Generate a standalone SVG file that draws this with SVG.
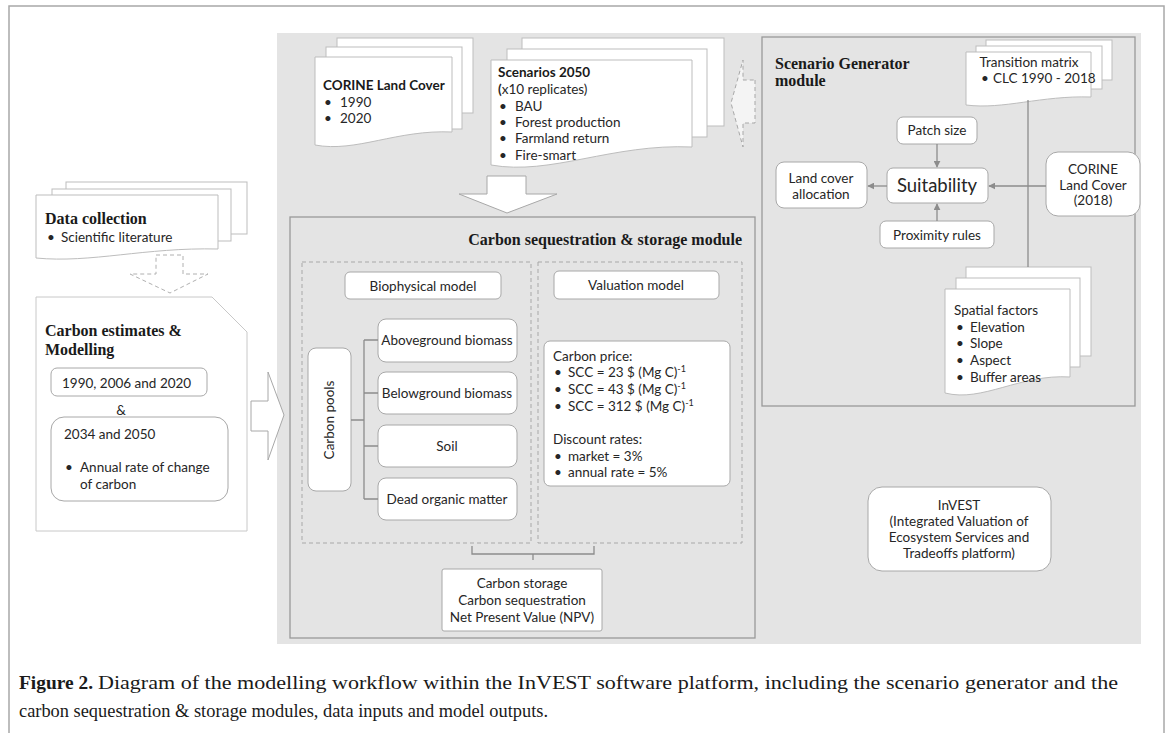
<svg xmlns="http://www.w3.org/2000/svg" width="1168" height="733" viewBox="0 0 1168 733">
<style>
.t{font-family:Lato,"Open Sans",sans-serif;font-size:13.5px;fill:#262626}
.tb{font-family:Lato,"Open Sans",sans-serif;font-size:13.5px;font-weight:bold;fill:#1a1a1a}
.c{text-anchor:middle}
.big{font-size:18.5px}
.st{font-family:"Liberation Serif",serif;font-size:16px;font-weight:bold;fill:#1a1a1a}
.box{fill:#fff;stroke:#a8a8a8;stroke-width:1}
.sheet{fill:#fff;stroke:#bdbdbd;stroke-width:1}
.dash{fill:none;stroke:#a8a8a8;stroke-width:1;stroke-dasharray:4 3}
.line{fill:none;stroke:#8c8c8c;stroke-width:1.3}
.cap{font-family:"Liberation Serif","DejaVu Serif",serif;font-size:19px;fill:#1a1a1a}
</style>
<defs>
<marker id="ah" viewBox="0 0 10 10" refX="9" refY="5" markerWidth="7" markerHeight="7" markerUnits="userSpaceOnUse" orient="auto">
<path d="M0,0 L10,5 L0,10 z" fill="#8c8c8c"/>
</marker>
</defs>
<rect width="1168" height="733" fill="#fff"/>
<rect x="9" y="6" width="1155" height="740" fill="none" stroke="#a8a8a8" stroke-width="1.5"/>
<rect x="277" y="33" width="864" height="611" fill="#e4e4e4"/>

<g id="corine-docs">
<rect class="sheet" x="337" y="38" width="136" height="75"/>
<rect class="sheet" x="326" y="47" width="136" height="82"/>
<path class="sheet" d="M315,57 H452 V132 C397,129.4 356,152.8 315,145 Z"/>
<text class="tb" x="323" y="90">CORINE Land Cover</text>
<text class="t" x="324" y="107">•</text><text class="t" x="340" y="107">1990</text>
<text class="t" x="324" y="123">•</text><text class="t" x="340" y="123">2020</text>
</g>

<g id="scenarios-docs">
<rect class="sheet" x="522" y="38" width="202" height="88"/>
<rect class="sheet" x="507" y="49" width="200" height="88"/>
<path class="sheet" d="M491,60 H692 V147 C612,143.4 551,175.8 491,165 Z"/>
<text class="tb" x="498" y="77">Scenarios 2050</text>
<text class="t" x="498" y="94"><tspan font-weight="bold">(</tspan>x10 replicates)</text>
<text class="t" x="499" y="111">•</text><text class="t" x="515" y="111">BAU</text>
<text class="t" x="499" y="127">•</text><text class="t" x="515" y="127">Forest production</text>
<text class="t" x="499" y="143">•</text><text class="t" x="515" y="143">Farmland return</text>
<text class="t" x="499" y="160">•</text><text class="t" x="515" y="160">Fire-smart</text>
</g>

<g id="carbon-module">
<rect x="290" y="217" width="465" height="421" fill="none" stroke="#999" stroke-width="1.3"/>
<text class="st" x="742" y="245" text-anchor="end">Carbon sequestration &amp; storage module</text>
<rect class="dash" x="302" y="262" width="229" height="281"/>
<rect class="dash" x="538" y="262" width="204" height="281"/>
</g>

<g id="biophysical">
<rect class="box" x="345" y="272" width="156" height="27" rx="5"/>
<text class="t c" x="423" y="291">Biophysical model</text>
</g>
<g id="valuation">
<rect class="box" x="554" y="271" width="165" height="28" rx="5"/>
<text class="t c" x="636" y="290">Valuation model</text>
</g>
<g id="carbon-pools">
<rect class="box" x="308" y="348" width="43" height="143" rx="8"/>
<text class="t c" transform="translate(329,420) rotate(-90)" x="0" y="5">Carbon pools</text>
</g>
<g id="aboveground">
<rect class="box" x="378" y="319" width="139" height="43" rx="8"/>
<text class="t c" x="447" y="345">Aboveground biomass</text>
</g>
<g id="belowground">
<rect class="box" x="378" y="372" width="139" height="42" rx="8"/>
<text class="t c" x="447" y="398">Belowground biomass</text>
</g>
<g id="soil">
<rect class="box" x="378" y="425" width="139" height="42" rx="8"/>
<text class="t c" x="447" y="451">Soil</text>
</g>
<g id="dead-organic">
<rect class="box" x="378" y="478" width="139" height="42" rx="8"/>
<text class="t c" x="447" y="504">Dead organic matter</text>
</g>
<g id="valuation-content">
<rect class="box" x="544" y="341" width="186" height="145" rx="6"/>
<text class="t" x="553" y="361">Carbon price:</text>
<text class="t" x="554" y="377">•</text><text class="t" x="568" y="377">SCC = 23 $ (Mg C)<tspan font-size="9" dy="-5">-1</tspan></text>
<text class="t" x="554" y="394">•</text><text class="t" x="568" y="394">SCC = 43 $ (Mg C)<tspan font-size="9" dy="-5">-1</tspan></text>
<text class="t" x="554" y="411">•</text><text class="t" x="568" y="411">SCC = 312 $ (Mg C)<tspan font-size="9" dy="-5">-1</tspan></text>
<text class="t" x="553" y="444">Discount rates:</text>
<text class="t" x="554" y="461">•</text><text class="t" x="568" y="461">market = 3%</text>
<text class="t" x="554" y="477">•</text><text class="t" x="568" y="477">annual rate = 5%</text>
</g>
<g id="outputs">
<rect class="box" x="442" y="569" width="160" height="62" rx="2"/>
<text class="t c" x="522" y="588">Carbon storage</text>
<text class="t c" x="522" y="605">Carbon sequestration</text>
<text class="t c" x="522" y="622">Net Present Value (NPV)</text>
</g>

<g id="data-collection">
<rect class="sheet" x="66" y="182" width="181" height="52"/>
<rect class="sheet" x="52" y="189" width="179" height="52"/>
<path class="sheet" d="M36,195 H218 V249 C145,247.2 91,263.4 36,258 Z"/>
<text class="st" x="45" y="224">Data collection</text>
<text class="t" x="47" y="242">•</text><text class="t" x="61" y="242">Scientific literature</text>
</g>

<g id="carbon-estimates">
<path d="M36,297 H212 L247,332 V531 H36 Z" fill="#fff" stroke="#c8c8c8" stroke-width="1"/>
<text class="st" x="45" y="336">Carbon estimates &amp;</text>
<text class="st" x="45" y="355">Modelling</text>
<rect class="box" x="51" y="368" width="156" height="28" rx="6"/>
<text class="t" x="62" y="388">1990, 2006 and 2020</text>
<text class="t" x="121" y="415" text-anchor="middle">&amp;</text>
<rect class="box" x="51" y="417" width="177" height="84" rx="13"/>
<text class="t" x="64" y="439">2034 and 2050</text>
<text class="t" x="65" y="472">•</text><text class="t" x="80" y="472">Annual rate of change</text>
<text class="t" x="80" y="489">of carbon</text>
</g>

<g id="scenario-generator">
<rect x="762" y="37" width="373" height="369" fill="none" stroke="#999" stroke-width="1.3"/>
<text class="st" x="775" y="69">Scenario Generator</text>
<text class="st" x="775" y="86">module</text>
</g>
<g id="transition-matrix">
<rect class="sheet" x="986" y="40" width="126" height="40"/>
<rect class="sheet" x="976" y="46" width="126" height="43"/>
<path class="sheet" d="M966,52 H1091 V97 C1041,95.4 1003.5,109.8 966,105 Z"/>
<text class="t c" x="1029" y="67">Transition matrix</text>
<text class="t" x="981" y="83">•</text><text class="t" x="993" y="83">CLC 1990 - 2018</text>
</g>
<g id="patch-size">
<rect class="box" x="897" y="117" width="80" height="27" rx="6"/>
<text class="t c" x="937" y="135">Patch size</text>
</g>
<g id="suitability">
<rect class="box" x="887" y="168" width="101" height="35" rx="6"/>
<text class="t c big" x="937" y="192">Suitability</text>
</g>
<g id="land-cover-allocation">
<rect class="box" x="776" y="162" width="91" height="46" rx="8"/>
<text class="t c" x="821" y="183">Land cover</text>
<text class="t c" x="821" y="199">allocation</text>
</g>
<g id="corine-2018">
<rect class="box" x="1046" y="152" width="94" height="64" rx="12"/>
<text class="t c" x="1093" y="174">CORINE</text>
<text class="t c" x="1093" y="190">Land Cover</text>
<text class="t c" x="1093" y="205">(2018)</text>
</g>
<g id="proximity-rules">
<rect class="box" x="880" y="221" width="114" height="27" rx="6"/>
<text class="t c" x="937" y="240">Proximity rules</text>
</g>
<g id="spatial-factors">
<rect class="sheet" x="966" y="267" width="125" height="89"/>
<rect class="sheet" x="956" y="278" width="124" height="89"/>
<path class="sheet" d="M945,289 H1070 V377 C1020,373.8 982.5,402.6 945,393 Z"/>
<text class="t" x="954" y="315">Spatial factors</text>
<text class="t" x="956" y="332">•</text><text class="t" x="970" y="332">Elevation</text>
<text class="t" x="956" y="348">•</text><text class="t" x="970" y="348">Slope</text>
<text class="t" x="956" y="365">•</text><text class="t" x="970" y="365">Aspect</text>
<text class="t" x="956" y="382">•</text><text class="t" x="970" y="382">Buffer areas</text>
</g>
<g id="invest">
<rect class="box" x="868" y="487" width="183" height="84" rx="14"/>
<text class="t c" x="959" y="510">InVEST</text>
<text class="t c" x="959" y="526">(Integrated Valuation of</text>
<text class="t c" x="959" y="542">Ecosystem Services and</text>
<text class="t c" x="959" y="558">Tradeoffs platform)</text>
</g>

<g id="connectors">
<path d="M487,176 H526 V194 H557 L507,213 L459,194 H487 Z" fill="#fff" stroke="#a8a8a8" stroke-width="1"/>
<path d="M755,80 V123 H743 V147 L731,103 L743,60 V80 Z" fill="#f4f4f4" stroke="#a8a8a8" stroke-width="1" stroke-dasharray="4 3"/>
<path d="M156,255 H183 V274 H208 L170,293 L130,274 H156 Z" fill="#fff" stroke="#b0b0b0" stroke-width="1" stroke-dasharray="4 3"/>
<path d="M251,401 H268 V372 L284,415 L268,460 V431 H251 Z" fill="#fff" stroke="#a8a8a8" stroke-width="1"/>
<path class="line" d="M351,420 H364 M364,340 V499 M364,340 H378 M364,393 H378 M364,446 H378 M364,499 H378" stroke-width="1.5"/>
<path class="line" d="M472,546 V554 H594 V546 M533,554 V560" stroke-width="2"/>
<path class="line" d="M1028,100 V267"/>
<path class="line" d="M937,144 V167" marker-end="url(#ah)"/>
<path class="line" d="M937,221 V204" marker-end="url(#ah)"/>
<path class="line" d="M887,186 H868" marker-end="url(#ah)"/>
<path class="line" d="M1046,186 H989" marker-end="url(#ah)"/>
</g>

<g id="caption">
<text class="cap" x="19" y="689" font-weight="bold" textLength="74" lengthAdjust="spacingAndGlyphs">Figure 2.</text>
<text class="cap" x="98" y="689" textLength="1020" lengthAdjust="spacingAndGlyphs">Diagram of the modelling workflow within the InVEST software platform, including the scenario generator and the</text>
<text class="cap" x="19" y="717" textLength="529" lengthAdjust="spacingAndGlyphs">carbon sequestration &amp; storage modules, data inputs and model outputs.</text>
</g>
</svg>
